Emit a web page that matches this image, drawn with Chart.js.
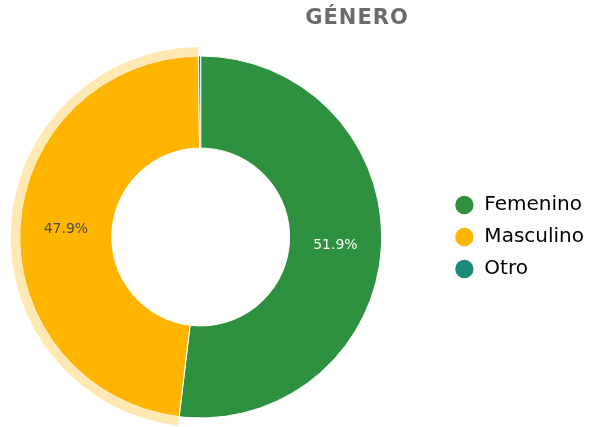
<!DOCTYPE html>
<html>
<head>
<meta charset="utf-8">
<script src="https://cdn.jsdelivr.net/npm/chart.js@4"></script>
<style>
  html, body { margin: 0; padding: 0; background: #fff; overflow: hidden; }
  #wrap { position: relative; width: 597px; height: 427px; overflow: hidden; }
  #generoChart { position: absolute; left: -41px; top: 0; }
  #titulo {
    position: absolute; left: 0; width: 714px; top: 5px;
    text-align: center; font: bold 21px "DejaVu Sans", sans-serif;
    letter-spacing: 1px; color: #6b6b6b;
  }
</style>
</head>
<body>
<div id="wrap">
  <canvas id="generoChart" width="637" height="427"></canvas>
  <div id="titulo">GÉNERO</div>
</div>
<script>
const generos = ["Femenino", "Masculino", "Otro"];
const porcentajes = [51.9, 47.9, 0.2];
const colores = ["#2e9140", "#ffb400", "#1b8a78"];
const halo = ["rgba(0,0,0,0)", "rgba(255,180,0,0.3)", "rgba(0,0,0,0)"];
const colorEtiqueta = ["#ffffff", "#4d4d4d", "#ffffff"];

// etiquetas de porcentaje dentro de cada porción
const etiquetas = {
  id: "etiquetas",
  afterDatasetsDraw(chart) {
    const ctx = chart.ctx;
    const meta = chart.getDatasetMeta(1);
    ctx.save();
    ctx.font = "14px 'DejaVu Sans', sans-serif";
    ctx.textAlign = "center";
    ctx.textBaseline = "middle";
    meta.data.forEach((arc, i) => {
      if (porcentajes[i] < 5) return;
      const p = arc.tooltipPosition();
      ctx.fillStyle = colorEtiqueta[i];
      ctx.fillText(porcentajes[i].toFixed(1) + "%", p.x, p.y);
    });
    ctx.restore();
  }
};

new Chart(
  document.getElementById("generoChart"),
  {
    type: "doughnut",
    data: {
      labels: generos,
      datasets: [
        {
          data: porcentajes,
          backgroundColor: halo,
          borderWidth: 0,
          weight: 9
        },
        {
          data: porcentajes,
          backgroundColor: colores,
          borderColor: "#ffffff",
          borderWidth: 1,
          weight: 92
        }
      ]
    },
    options: {
      responsive: false,
      animation: false,
      cutout: "46.8%",
      layout: {
        padding: { top: 47, bottom: 0, left: 0, right: 2 }
      },
      plugins: {
        tooltip: { enabled: false },
        legend: {
          position: "right",
          labels: {
            usePointStyle: true,
            pointStyle: "circle",
            boxHeight: 13,
            padding: 12,
            color: "#3a3a3a",
            font: { family: "'DejaVu Sans', sans-serif", size: 20 },
            generateLabels: chart => generos.map((g, i) => ({
              text: g,
              fillStyle: colores[i],
              strokeStyle: colores[i],
              lineWidth: 0,
              pointStyle: "circle",
              hidden: false,
              index: i
            }))
          }
        }
      }
    },
    plugins: [etiquetas]
  }
);
</script>
</body>
</html>
